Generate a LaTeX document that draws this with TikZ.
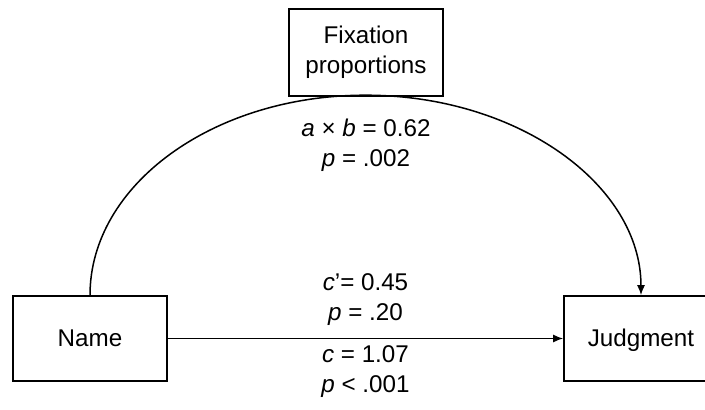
\documentclass[tikz,border=0pt]{standalone}
\usepackage{fontspec}
\setmainfont{Liberation Sans}
\usetikzlibrary{arrows.meta,positioning}

\begin{document}
\begin{tikzpicture}[x=1pt,y=1pt,>={Latex[length=10pt,width=8pt]},
  every node/.style={font=\fontsize{24.2}{30}\selectfont},
  varbox/.style={draw,line width=1.6pt,minimum width=154pt,minimum height=85pt,align=center,inner sep=0pt},
  link/.style={line width=1.5pt}]
\useasboundingbox (0,0) rectangle (705,410);
% variables
\node[varbox,minimum height=87pt] (fix) at (366,357.5) {Fixation\\proportions};
\node[varbox,text height=17pt,text depth=0pt] (name) at (90,71.5) {Name};
\node[varbox,text height=17pt,text depth=0pt] (judg) at (641,71.5) {Judgment};
% indirect path through the mediator
\draw[link,->] (name.north) arc[start angle=180,end angle=0,x radius=275.5,y radius=200];
\node[below=19pt of fix,align=center] (ab) {\textit{a} × \textit{b} = 0.62\\\textit{p} = .002};
% direct path
\draw[link,->] (name) -- node[above=9pt,align=center] (cdir) {\textit{c}’= 0.45\\\textit{p} = .20}
  node[below=3pt,align=center] (ctot) {\textit{c} = 1.07\\\textit{p} < .001} (judg);
\end{tikzpicture}
\end{document}
